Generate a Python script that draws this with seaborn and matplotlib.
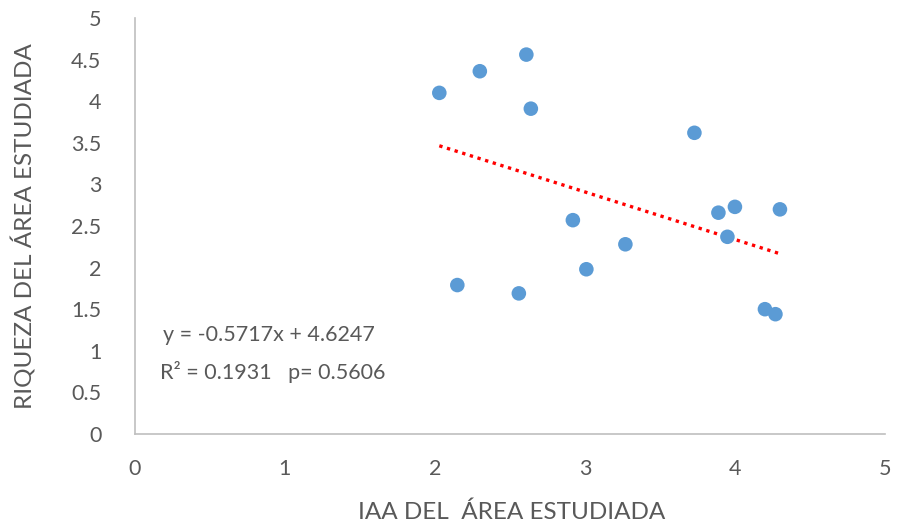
import numpy as np
import pandas as pd
import matplotlib
matplotlib.use("Agg")
import matplotlib.pyplot as plt
import seaborn as sns

# values
iaa = [2.03, 2.30, 2.61, 2.64, 2.15, 2.56, 2.92, 3.01, 3.27, 3.73,
       3.89, 4.00, 3.95, 4.30, 4.20, 4.27]
riqueza = [4.10, 4.36, 4.56, 3.91, 1.79, 1.69, 2.57, 1.98, 2.28, 3.62,
           2.66, 2.73, 2.37, 2.70, 1.50, 1.44]

# linear trend as printed on the chart
slope = -0.5717
intercept = 4.6247
r2_text = "R\u00b2 = 0.1931   p= 0.5606"

x_ticks = [0, 1, 2, 3, 4, 5]
y_ticks = [0, 0.5, 1, 1.5, 2, 2.5, 3, 3.5, 4, 4.5, 5]
y_ticklabels = ["0", "0.5", "1", "1.5", "2", "2.5", "3", "3.5", "4", "4.5", "5"]

sns.set_style("white")
plt.rcParams['font.family'] = ['Lato', 'DejaVu Sans']
text_color = "#595959"

df = pd.DataFrame({"iaa": iaa, "riqueza": riqueza})

fig = plt.figure(figsize=(8.98, 5.29), dpi=100)
ax = fig.add_axes([0.150, 0.1796, 0.8355, 0.7864])

sns.scatterplot(data=df, x="iaa", y="riqueza", ax=ax, s=110,
                color="#5B9BD5", edgecolor="none", zorder=3)

# trendline across the data range
xs = np.array([min(iaa), max(iaa)])
ax.plot(xs, slope * xs + intercept, color="#FF0000", linestyle=(0, (1, 1.4)),
        linewidth=2.4, zorder=2)

ax.set_xlim(0, 5)
ax.set_ylim(0, 5)
ax.set_xticks(x_ticks)
ax.set_yticks(y_ticks)
ax.set_yticklabels(y_ticklabels)
ax.tick_params(axis="both", length=0, labelsize=15.5, colors=text_color)
ax.tick_params(axis="x", pad=18)
ax.tick_params(axis="y", pad=24)

sns.despine(ax=ax)
for side in ["left", "bottom"]:
    ax.spines[side].set_color("#BFBFBF")
    ax.spines[side].set_linewidth(1.2)

ax.set_xlabel("IAA DEL  \u00c1REA ESTUDIADA", fontsize=17.5, color=text_color)
ax.set_ylabel("RIQUEZA DEL \u00c1REA ESTUDIADA", fontsize=17.5, color=text_color)
ax.xaxis.set_label_coords(0.503, -0.163)
ax.yaxis.set_label_coords(-0.131, 0.5)

ax.text(0.187, 1.19, f"y = {slope}x + {intercept}", fontsize=15.5, color=text_color,
        ha="left", va="center")
ax.text(0.167, 0.745, r2_text, fontsize=15.5, color=text_color, ha="left", va="center")

fig.savefig("out.png", dpi=100)
